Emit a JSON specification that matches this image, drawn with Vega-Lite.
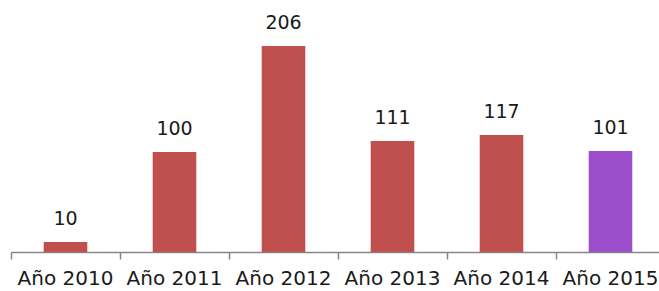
{
  "$schema": "https://vega.github.io/schema/vega-lite/v6.json",
  "width": 654,
  "height": 250,
  "autosize": {"type": "none"},
  "padding": {"left": 11, "top": 2, "right": 0, "bottom": 39},
  "background": "white",
  "config": {"view": {"stroke": null}, "font": "DejaVu Sans"},
  "data": {"values": [
    {"year": "Año 2010", "value": 10, "c": "a"},
    {"year": "Año 2011", "value": 100, "c": "a"},
    {"year": "Año 2012", "value": 206, "c": "a"},
    {"year": "Año 2013", "value": 111, "c": "a"},
    {"year": "Año 2014", "value": 117, "c": "a"},
    {"year": "Año 2015", "value": 101, "c": "b"}
  ]},
  "resolve": {"axis": {"x": "independent"}},
  "layer": [
    {"mark": {"type": "bar", "width": {"band": 0.4}},
     "encoding": {
       "x": {"field": "year", "type": "nominal", "sort": null,
         "scale": {"paddingInner": 0, "paddingOuter": 0},
         "axis": {"orient": "bottom", "title": null, "labels": false, "ticks": true, "bandPosition": 0, "domainColor": "#868686", "tickColor": "#868686", "tickSize": 7, "domainWidth": 1.5, "tickWidth": 1.5}},
       "y": {"field": "value", "type": "quantitative", "scale": {"domain": [0, 250], "nice": false, "zero": true}, "axis": null},
       "color": {"field": "c", "type": "nominal", "scale": {"domain": ["a", "b"], "range": ["#C0504D", "#9B4FCA"]}, "legend": null}}},
    {"mark": {"type": "text", "baseline": "bottom", "dy": -13, "fontSize": 19, "color": "#1a1a1a"},
     "encoding": {
       "x": {"field": "year", "type": "nominal", "sort": null,
         "axis": {"orient": "bottom", "title": null, "labelAngle": 0, "ticks": false, "domain": false, "labelFontSize": 20, "labelColor": "#1a1a1a", "labelPadding": 16, "labelFont": "DejaVu Sans"}},
       "y": {"field": "value", "type": "quantitative", "scale": {"domain": [0, 250], "nice": false, "zero": true}, "axis": null},
       "text": {"field": "value", "type": "quantitative"}}}
  ]
}
